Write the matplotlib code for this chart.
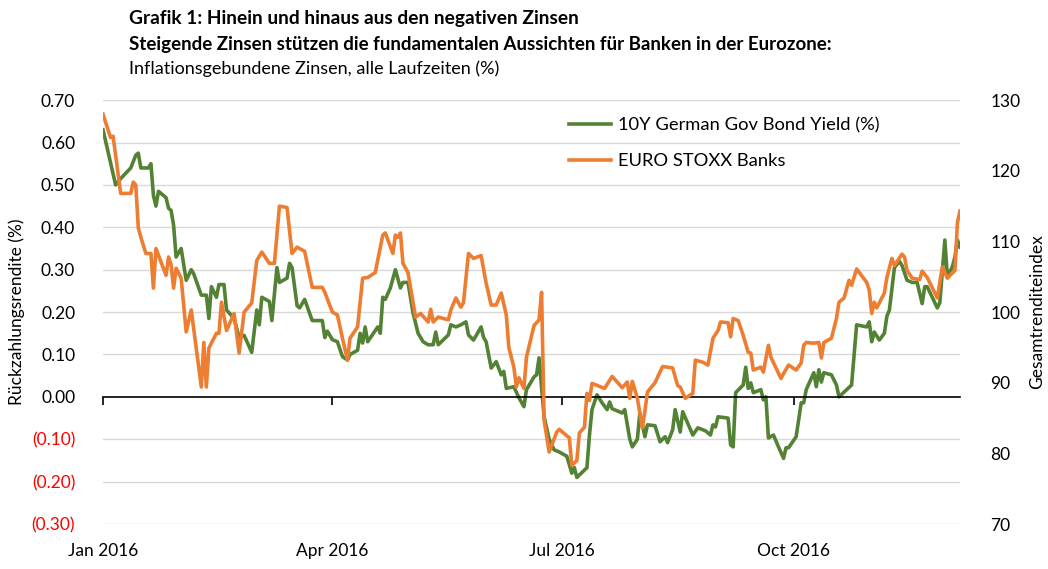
import matplotlib
matplotlib.use("Agg")
import matplotlib.pyplot as plt
import matplotlib.transforms as mtransforms
import numpy as np

plt.rcParams['font.family'] = ['Lato', 'DejaVu Sans']

# 10Y German Gov Bond Yield (%), days since 2016-01-01
green_day = [0, 5, 7, 11, 13, 14, 15, 18, 19, 20, 21, 22, 25, 26, 27, 28, 29, 31, 33, 35, 36, 39, 41, 42, 43,
             45, 46, 48, 49, 52, 54, 56, 59, 61, 62, 63, 66, 67, 69, 70, 73, 74, 75, 77, 78, 80, 83, 87, 88,
             89, 91, 93, 95, 97, 98, 101, 102, 103, 104, 105, 109, 110, 111, 112, 114, 116, 118, 119, 121,
             123, 125, 127, 129, 131, 132, 133, 137, 138, 140, 142, 144, 145, 147, 150, 151, 152, 154, 156,
             158, 159, 160, 163, 165, 167, 168, 171, 172, 173, 175, 177, 179, 181, 184, 186, 187, 188, 192,
             193, 194, 196, 198, 200, 201, 202, 206, 207, 209, 210, 212, 213, 215, 216, 219, 221, 223, 224,
             226, 227, 229, 230, 234, 236, 239, 241, 242, 243, 244, 248, 249, 250, 251, 254, 255, 256, 257,
             258, 261, 262, 263, 264, 266, 268, 270, 271, 272, 275, 277, 278, 279, 282, 283, 284, 285, 286,
             289, 291, 292, 297, 299, 303, 304, 305, 306, 308, 310, 311, 312, 314, 316, 317, 319, 321, 323,
             325, 326, 327, 331, 332, 334, 335, 337, 338, 339, 340]
green_val = [0.63, 0.50, 0.515, 0.54, 0.57, 0.575, 0.54, 0.54, 0.55, 0.475, 0.45, 0.485, 0.47, 0.445, 0.44,
             0.405, 0.33, 0.35, 0.275, 0.30, 0.29, 0.24, 0.24, 0.185, 0.26, 0.235, 0.265, 0.265, 0.205, 0.185,
             0.14, 0.145, 0.105, 0.205, 0.17, 0.235, 0.225, 0.18, 0.305, 0.27, 0.28, 0.315, 0.305, 0.215,
             0.21, 0.23, 0.18, 0.18, 0.14, 0.155, 0.135, 0.13, 0.095, 0.087, 0.10, 0.11, 0.15, 0.127, 0.165,
             0.13, 0.165, 0.15, 0.235, 0.23, 0.257, 0.30, 0.257, 0.27, 0.27, 0.198, 0.15, 0.13, 0.123, 0.123,
             0.153, 0.123, 0.146, 0.17, 0.165, 0.17, 0.177, 0.146, 0.134, 0.165, 0.14, 0.13, 0.068, 0.083,
             0.052, 0.06, 0.02, 0.024, -0.002, -0.023, 0.017, 0.047, 0.052, 0.092, -0.047, -0.10, -0.125,
             -0.13, -0.14, -0.18, -0.167, -0.19, -0.167, -0.09, -0.03, 0.005, -0.014, -0.03, -0.012, -0.028,
             -0.038, -0.03, -0.10, -0.118, -0.10, -0.038, -0.094, -0.066, -0.068, -0.106, -0.094, -0.108,
             -0.078, -0.03, -0.083, -0.035, -0.09, -0.073, -0.08, -0.09, -0.066, -0.071, -0.047, -0.05,
             -0.113, -0.118, 0.01, 0.028, 0.07, 0.02, 0.033, 0.01, 0.017, -0.007, 0.0, -0.097, -0.09, -0.118,
             -0.145, -0.12, -0.12, -0.094, -0.014, -0.014, 0.017, 0.057, 0.024, 0.064, 0.035, 0.057, 0.052,
             0.028, 0.0, 0.028, 0.17, 0.165, 0.177, 0.13, 0.153, 0.134, 0.15, 0.19, 0.205, 0.305, 0.32, 0.31,
             0.275, 0.27, 0.27, 0.22, 0.26, 0.26, 0.21, 0.222, 0.37, 0.283, 0.307, 0.33, 0.37, 0.353]

# EURO STOXX Banks index, days since 2016-01-01
orange_day = [0, 3, 4, 5, 7, 11, 12, 13, 14, 15, 17, 19, 20, 21, 25, 26, 27, 28, 29, 31, 33, 35, 39, 40, 41,
              42, 45, 46, 47, 49, 52, 54, 56, 59, 61, 63, 66, 68, 70, 73, 75, 77, 80, 83, 87, 88, 91, 93, 95,
              97, 98, 101, 103, 105, 108, 111, 112, 115, 116, 117, 118, 119, 121, 123, 124, 126, 129, 130, 131,
              133, 137, 138, 140, 142, 143, 145, 147, 150, 152, 154, 156, 158, 160, 161, 163, 164, 165, 167,
              168, 171, 173, 174, 175, 177, 180, 181, 185, 186, 188, 189, 191, 192, 193, 194, 199, 202, 204,
              206, 208, 209, 210, 212, 214, 215, 216, 219, 222, 226, 228, 229, 231, 234, 235, 238, 240, 242,
              244, 245, 248, 249, 250, 252, 254, 256, 257, 258, 261, 262, 264, 265, 269, 270, 272, 275, 277,
              278, 279, 282, 284, 285, 286, 289, 291, 292, 294, 296, 297, 299, 303, 304, 305, 306, 307, 310,
              311, 313, 314, 317, 318, 319, 321, 324, 325, 327, 331, 333, 335, 338, 339, 340]
orange_val = [128.0, 124.7, 124.9, 122.2, 116.8, 116.8, 118.4, 118.0, 111.9, 110.6, 108.3, 108.3, 103.4,
              109.0, 105.2, 107.8, 106.7, 103.4, 106.2, 104.8, 97.2, 100.3, 89.4, 95.7, 89.4, 94.9, 97.0,
              97.0, 101.4, 97.4, 99.8, 94.2, 100.0, 101.3, 107.3, 108.5, 106.9, 106.9, 115.0, 114.8, 108.3,
              109.2, 108.6, 103.5, 103.5, 102.8, 100.0, 99.6, 96.3, 93.2, 96.3, 97.9, 104.8, 104.9, 105.6,
              110.9, 111.2, 108.3, 110.9, 110.6, 111.2, 106.9, 105.6, 101.4, 99.3, 99.8, 98.6, 100.4, 98.6,
              99.3, 98.9, 100.3, 102.0, 100.7, 101.3, 108.3, 107.6, 108.0, 104.1, 101.0, 101.0, 102.7, 99.6,
              95.0, 92.2, 89.4, 90.7, 89.2, 93.6, 98.1, 98.9, 102.8, 84.7, 80.2, 83.0, 83.4, 82.2, 78.3, 79.0,
              82.9, 83.7, 88.5, 87.5, 89.9, 89.2, 90.9, 90.1, 89.3, 90.1, 87.8, 90.2, 87.8, 83.6, 86.0, 88.7,
              90.0, 92.3, 92.1, 89.6, 89.4, 87.8, 88.5, 93.2, 92.9, 92.5, 96.3, 97.4, 98.6, 98.5, 96.5, 99.1,
              98.8, 96.7, 94.3, 94.2, 91.8, 92.2, 91.5, 95.3, 93.6, 90.6, 91.3, 92.5, 91.8, 92.8, 95.3, 95.7,
              95.6, 95.7, 93.5, 95.7, 96.3, 99.1, 101.4, 102.0, 104.5, 103.8, 106.1, 104.2, 103.1, 99.8, 101.4,
              100.6, 102.7, 104.9, 107.6, 106.6, 108.2, 107.8, 105.9, 104.8, 104.6, 105.8, 104.9, 102.0, 106.4,
              104.8, 105.9, 112.7, 114.3]

left_ticks = [-0.3, -0.2, -0.1, 0.0, 0.1, 0.2, 0.3, 0.4, 0.5, 0.6, 0.7]
right_ticks = [70, 80, 90, 100, 110, 120, 130]
month_ticks = ['2016-01-01', '2016-04-01', '2016-07-01', '2016-10-01']
month_labels = ['Jan 2016', 'Apr 2016', 'Jul 2016', 'Oct 2016']

start = np.datetime64('2016-01-01')
g_dates = start + np.array(green_day).astype('timedelta64[D]')
o_dates = start + np.array(orange_day).astype('timedelta64[D]')
m_dates = np.array(month_ticks, dtype='datetime64[D]')

GREEN = '#548235'
ORANGE = '#ED7D31'

fig = plt.figure(figsize=(10.48, 5.69), dpi=100)
ax = fig.add_axes([0.0983, 0.079, 0.8177, 0.745])
ax2 = ax.twinx()

ax.plot(g_dates, green_val, color=GREEN, lw=2.6, label='10Y German Gov Bond Yield (%)',
        solid_joinstyle='round')
ax2.plot(o_dates, orange_val, color=ORANGE, lw=2.6, label='EURO STOXX Banks', solid_joinstyle='round')

ax.set_xlim(start, start + np.timedelta64(340, 'D'))
ax.set_ylim(-0.3, 0.7)
ax2.set_ylim(70, 130)

for s in ['top', 'right', 'left']:
    ax.spines[s].set_visible(False)
    ax2.spines[s].set_visible(False)
ax2.spines['bottom'].set_visible(False)
ax.spines['bottom'].set_position(('data', 0))
ax.spines['bottom'].set_color('black')
ax.spines['bottom'].set_linewidth(1.2)

# gridlines
for t in left_ticks:
    if t != 0:
        ax.axhline(t, color='#d9d9d9', lw=1.0, zorder=0)

def fmt(v):
    return '(%.2f)' % abs(v) if v < 0 else '%.2f' % v

ax.set_yticks(left_ticks, [fmt(v) for v in left_ticks])
ax.tick_params(axis='y', length=0, labelsize=12.5, pad=20)
for lab, v in zip(ax.get_yticklabels(), left_ticks):
    lab.set_color('red' if v < 0 else 'black')

ax2.set_yticks(right_ticks, [str(v) for v in right_ticks])
ax2.tick_params(axis='y', length=0, labelsize=12.5, pad=22)

ax.set_xticks(m_dates, [''] * len(m_dates))
ax.tick_params(axis='x', direction='out', length=6, width=1.2, color='black')
trans = mtransforms.blended_transform_factory(ax.transData, ax.transAxes)
for d, lab in zip(m_dates, month_labels):
    ax.text(d, -0.045, lab, transform=trans, ha='center', va='top', fontsize=12.5)

ax.set_ylabel('Rückzahlungsrendite (%)', fontsize=12.5, labelpad=5)
ax2.set_ylabel('Gesamtrenditeindex', fontsize=12.5, labelpad=6)

fig.text(0.123, 0.968, 'Grafik 1: Hinein und hinaus aus den negativen Zinsen', fontsize=13.8,
         fontweight='bold', va='center')
fig.text(0.123, 0.922, 'Steigende Zinsen stützen die fundamentalen Aussichten für Banken in der Eurozone:',
         fontsize=13.5, fontweight='bold', va='center')
fig.text(0.123, 0.880, 'Inflationsgebundene Zinsen, alle Laufzeiten (%)', fontsize=13, va='center')

h1, l1 = ax.get_legend_handles_labels()
h2, l2 = ax2.get_legend_handles_labels()
fig.legend(h1 + h2, l1 + l2, loc='upper left', bbox_to_anchor=(0.527, 0.822), frameon=False,
           fontsize=13.2, handlelength=2.3, handletextpad=0.4, labelspacing=1.05)

fig.savefig('out.png', dpi=100)
